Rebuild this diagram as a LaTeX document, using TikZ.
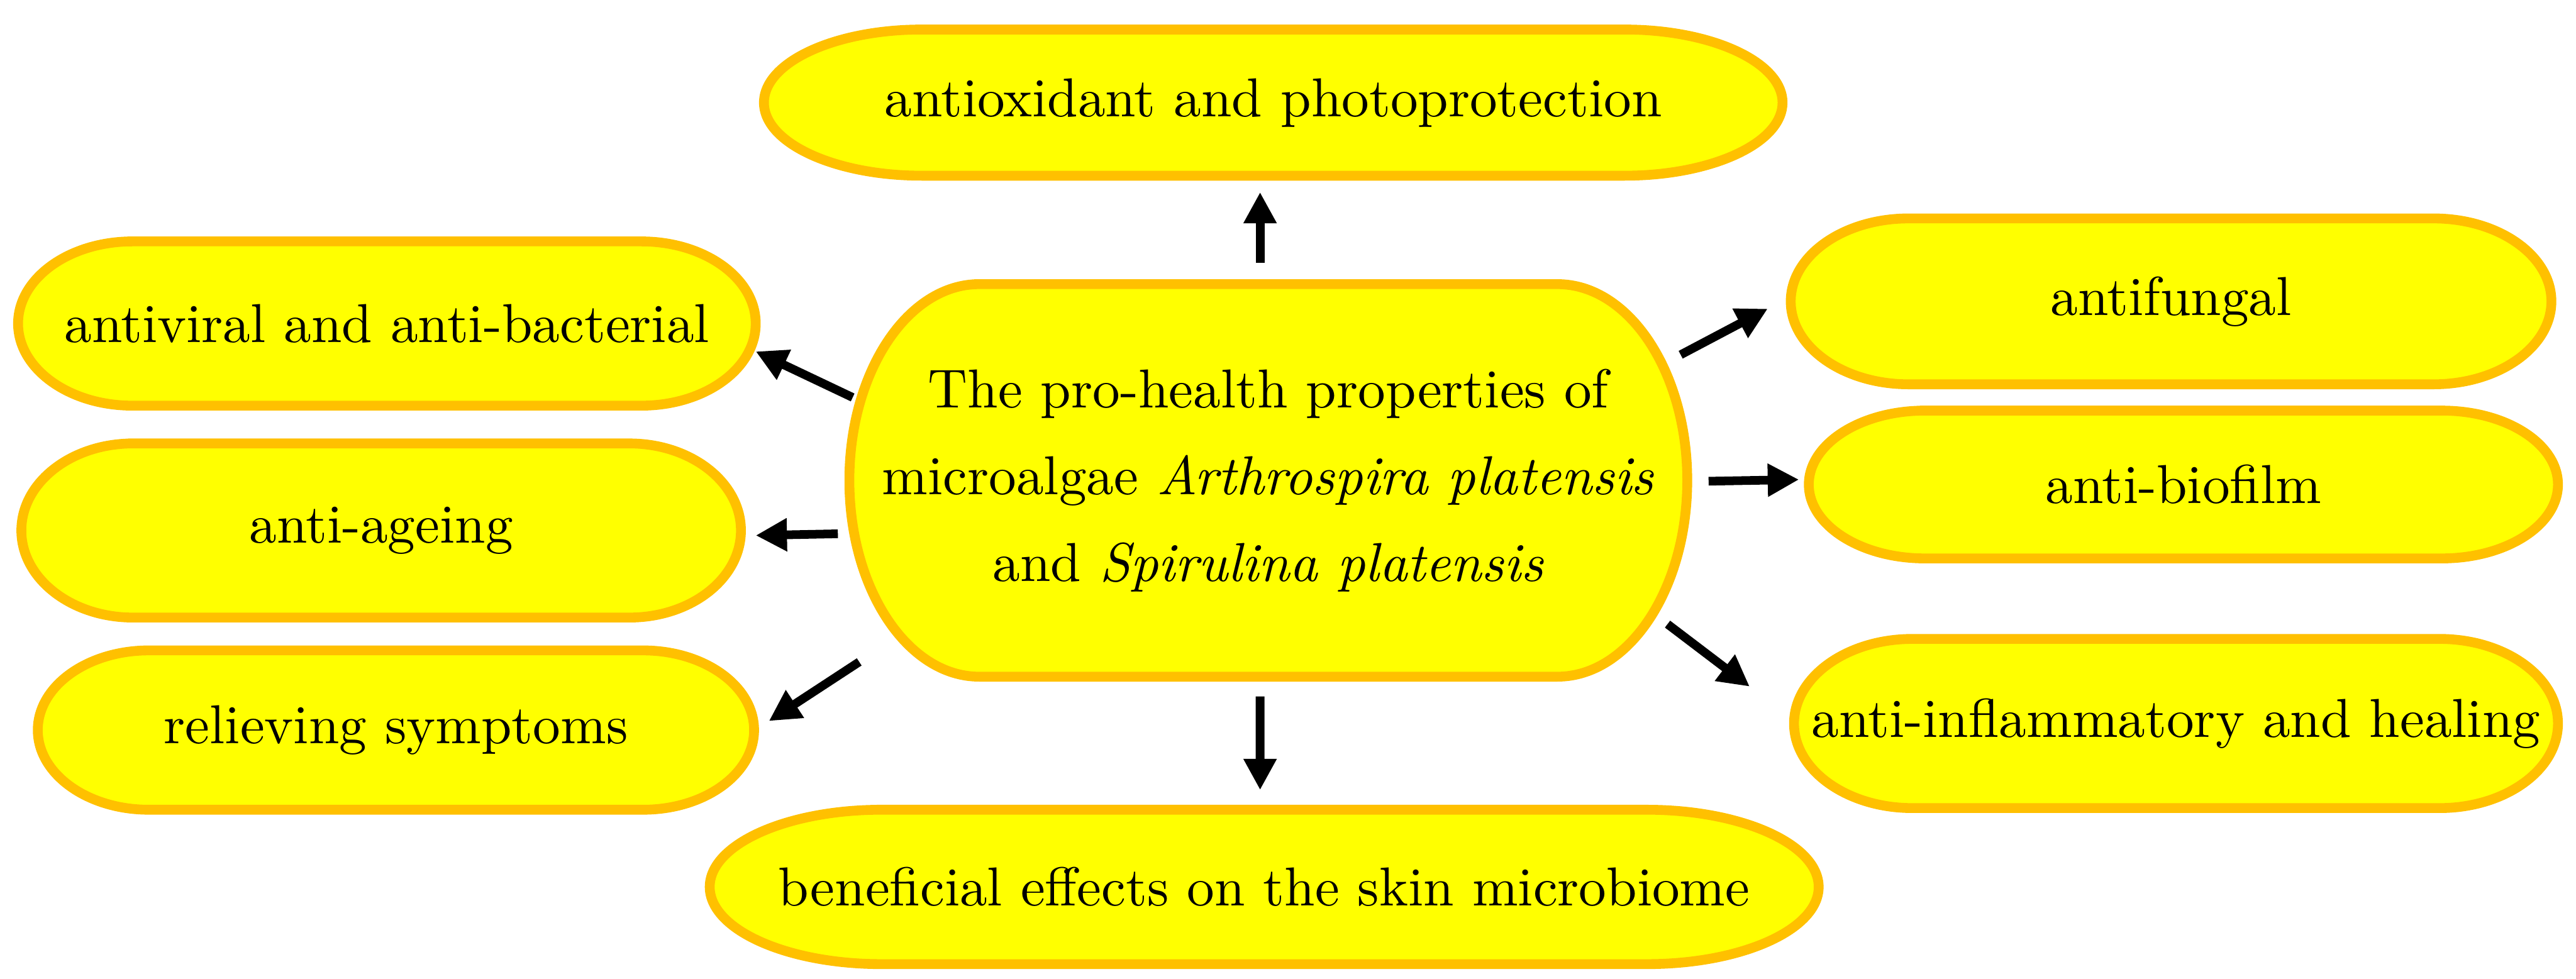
\documentclass[tikz,border=0pt]{standalone}
\usepackage{tikz}
\usetikzlibrary{arrows.meta,calc}
\definecolor{pillfill}{HTML}{FFFF00}
\definecolor{pillline}{HTML}{FFC000}
\tikzset{
  pillbox/.style={draw=pillline,fill=pillfill,line width=1.7pt},
  pilltext/.style={inner sep=0pt,outer sep=0pt,align=center,font=\fontsize{9.5}{11.5}\selectfont},
  arr/.style={line width=1.5pt,-{Triangle[length=0.19cm,width=0.19cm]}}
}
% pill: name, x, y, width, height, text
\newcommand{\pill}[6]{%
  \pgfmathsetmacro{\pillrx}{0.155*#4}%
  \draw[pillbox] ({#2-#4/2+\pillrx},{#3+#5/2}) -- ({#2+#4/2-\pillrx},{#3+#5/2})
    arc[start angle=90,end angle=-90,x radius=\pillrx,y radius=#5/2]
    -- ({#2-#4/2+\pillrx},{#3-#5/2})
    arc[start angle=270,end angle=90,x radius=\pillrx,y radius=#5/2] -- cycle;
  \node[pilltext,minimum width=#4cm,minimum height=#5cm] (#1) at (#2,#3) {#6};
}

\begin{document}
\begin{tikzpicture}
  \useasboundingbox (0,0) rectangle (15.68,5.96);
  \pill{hub}{7.72}{3.035}{5.10}{2.39}{The pro-health properties of\\[3.5pt]
    microalgae \textit{Arthrospira platensis}\\[3.5pt] and \textit{Spirulina platensis}}
  \pill{top}{7.75}{5.335}{6.20}{0.89}{antioxidant and photoprotection}
  \pill{viral}{2.355}{3.99}{4.49}{1.00}{antiviral and anti-bacterial}
  \pill{ageing}{2.32}{2.73}{4.38}{1.06}{anti-ageing}
  \pill{relief}{2.41}{1.515}{4.36}{0.97}{relieving symptoms}
  \pill{fungal}{13.215}{4.125}{4.63}{1.01}{antifungal}
  \pill{biofilm}{13.29}{3.01}{4.56}{0.90}{anti-biofilm}
  \pill{inflam}{13.245}{1.555}{4.65}{1.03}{anti-inflammatory and healing}
  \pill{bottom}{7.695}{0.56}{6.75}{0.94}{beneficial effects on the skin microbiome}

  % arrows out of the hub
  \draw[arr] ([shift={(-0.05,0.13)}]hub.north) -- ([shift={(-0.08,-0.10)}]top.south);
  \draw[arr] ([shift={(0.02,0.505)}]hub.west) -- ([shift={(0,-0.17)}]viral.east);
  \draw[arr] ([shift={(-0.07,-0.325)}]hub.west) -- ([shift={(0.09,-0.03)}]ageing.east);
  \draw[arr] ([shift={(0.06,-1.105)}]hub.west) -- ([shift={(0.09,0.055)}]relief.east);
  \draw[arr] ([shift={(-0.04,0.765)}]hub.east) -- ([shift={(-0.14,-0.045)}]fungal.west);
  \draw[arr] ([shift={(0.13,-0.005)}]hub.east) -- ([shift={(-0.06,0.03)}]biofilm.west);
  \draw[arr] ([shift={(-0.12,-0.875)}]hub.east) -- ([shift={(-0.27,0.225)}]inflam.west);
  \draw[arr] ([shift={(-0.05,-0.12)}]hub.south) -- ([shift={(-0.025,0.12)}]bottom.north);
\end{tikzpicture}
\end{document}
